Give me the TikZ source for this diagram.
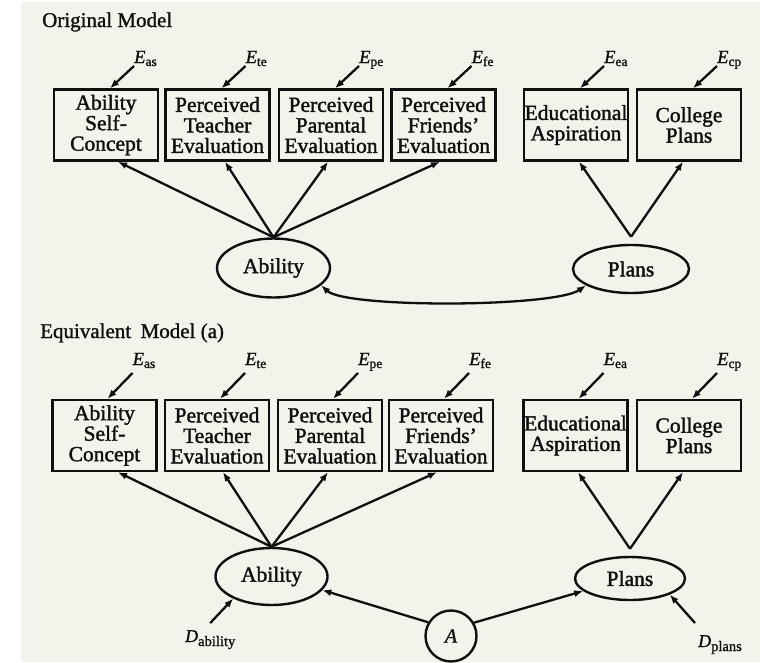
\documentclass[tikz,border=0pt]{standalone}
\usepackage{fontspec}
\setmainfont{Liberation Serif}[FakeBold=1.2]
\usetikzlibrary{shapes.geometric,arrows.meta,calc}
\definecolor{paper}{RGB}{243,242,235}
\definecolor{ink}{RGB}{15,15,15}
\newcommand\bxfont{\fontsize{21.5}{20.5}\selectfont\addfontfeature{FakeBold=1.6}}
\newcommand\ttlfont{\fontsize{21}{24}\selectfont\addfontfeature{FakeBold=1.2}}
\newcommand\Elab[1]{{\fontsize{18.5}{20}\selectfont\itshape E}\raisebox{-3pt}{\fontsize{13.5}{14}\selectfont #1}}
\newcommand\Dlab[1]{{\fontsize{18}{20}\selectfont\itshape D}\raisebox{-4pt}{\fontsize{14.5}{15}\selectfont #1}}
\tikzset{
  box/.style={draw=ink, line width=2.4pt, minimum width=104pt, minimum height=71pt,
    inner sep=0pt, align=center, font=\bxfont, text=ink},
  lat/.style={ellipse, draw=ink, line width=2.4pt, inner sep=0pt, font=\bxfont, text=ink},
  conn/.style={draw=ink, line width=2.3pt, -{Latex[length=9pt,width=7pt]}},
  dconn/.style={draw=ink, line width=2.3pt, {Latex[length=9pt,width=7pt]}-{Latex[length=9pt,width=7pt]}},
  elab/.style={inner sep=0pt, text=ink},
  ttl/.style={inner sep=0pt, font=\ttlfont, text=ink, anchor=base west},
}
\begin{document}
\begin{tikzpicture}[x=1pt,y=-1pt]
\useasboundingbox (0,0) rectangle (760,662);
\fill[white] (0,0) rectangle (760,662);
\fill[paper] (21,2) rectangle (760,662);

% ---------- Original Model ----------
\node[ttl] (t1) at (42,27) {Original Model};
\foreach \n/\x/\txt/\s in {1/106/{Ability\\Self-\\Concept}/as,
                           2/217.5/{Perceived\\Teacher\\Evaluation}/te,
                           3/331/{Perceived\\Parental\\Evaluation}/pe,
                           4/443.5/{Perceived\\Friends'\\Evaluation}/fe,
                           5/576/{Educational\\Aspiration}/ea,
                           6/689/{College\\Plans}/cp}{
  \node[box] (b1\n) at (\x,125) {\txt};
  \node[elab, anchor=base west] (e1\n) at (\x+28,63) {\Elab{\s}};
  \draw[conn] ($(e1\n.base west)+(0,3)$) -- ($(b1\n.north)+(4,0)$);
}
\node[lat, minimum width=113pt, minimum height=59pt] (a1) at (273.5,268) {Ability};
\node[lat, minimum width=116pt, minimum height=48pt] (p1) at (631,269) {Plans};
\foreach \n/\d in {1/12, 2/7.5, 3/-3, 4/-3.5}
  \draw[conn] (a1.north) -- ($(b1\n.south)+(\d,0)$);
\draw[conn] ($(p1.north)+(0,-7)$) -- ($(b15.south)+(3,0)$);
\draw[conn] ($(p1.north)+(0,-7)$) -- ($(b16.south)+(-6,0)$);
\draw[dconn] (a1.-20) .. controls +(25,23) and +(-32,22) .. (p1.200);

% ---------- Equivalent Model (a) ----------
\node[ttl] (t2) at (40,338) {Equivalent\hspace{0.45em}Model (a)};
\foreach \n/\x/\txt/\s in {1/104.5/{Ability\\Self-\\Concept}/as,
                           2/217/{Perceived\\Teacher\\Evaluation}/te,
                           3/330/{Perceived\\Parental\\Evaluation}/pe,
                           4/441/{Perceived\\Friends'\\Evaluation}/fe,
                           5/575.5/{Educational\\Aspiration}/ea,
                           6/689/{College\\Plans}/cp}{
  \node[box] (b2\n) at (\x,435.5) {\txt};
  \node[elab, anchor=base west] (e2\n) at (\x+28,365) {\Elab{\s}};
  \draw[conn] ($(e2\n.base west)+(0,8)$) -- ($(b2\n.north)+(3,0)$);
}
\node[lat, minimum width=112pt, minimum height=57pt] (a2) at (271.5,576.5) {Ability};
\node[lat, minimum width=110pt, minimum height=43pt] (p2) at (630,578.5) {Plans};
\foreach \n/\d in {1/13.5, 2/6, 3/-2, 4/-4}
  \draw[conn] (a2.north) -- ($(b2\n.south)+(\d,0)$);
\draw[conn] ($(p2.north)+(0,-7)$) -- ($(b25.south)+(2.5,0)$);
\draw[conn] ($(p2.north)+(0,-7)$) -- ($(b26.south)+(-6,0)$);

\node[circle, draw=ink, line width=2.4pt, minimum size=51pt, inner sep=0pt,
      font=\fontsize{20}{22}\selectfont\itshape, text=ink] (A) at (451,636) {A};
\draw[conn] (A.149) -- (a2.-15);
\draw[conn] (A.30) -- (p2.195);

\node[elab, anchor=base west] (dab) at (185,642) {\Dlab{ability}};
\node[elab, anchor=base west] (dpl) at (698,647) {\Dlab{plans}};
\draw[conn] ($(dab.base)+(0,-19)$) -- (a2.210);
\draw[conn] ($(dpl.base west)+(-3,-24)$) -- (p2.-22);
\end{tikzpicture}
\end{document}
